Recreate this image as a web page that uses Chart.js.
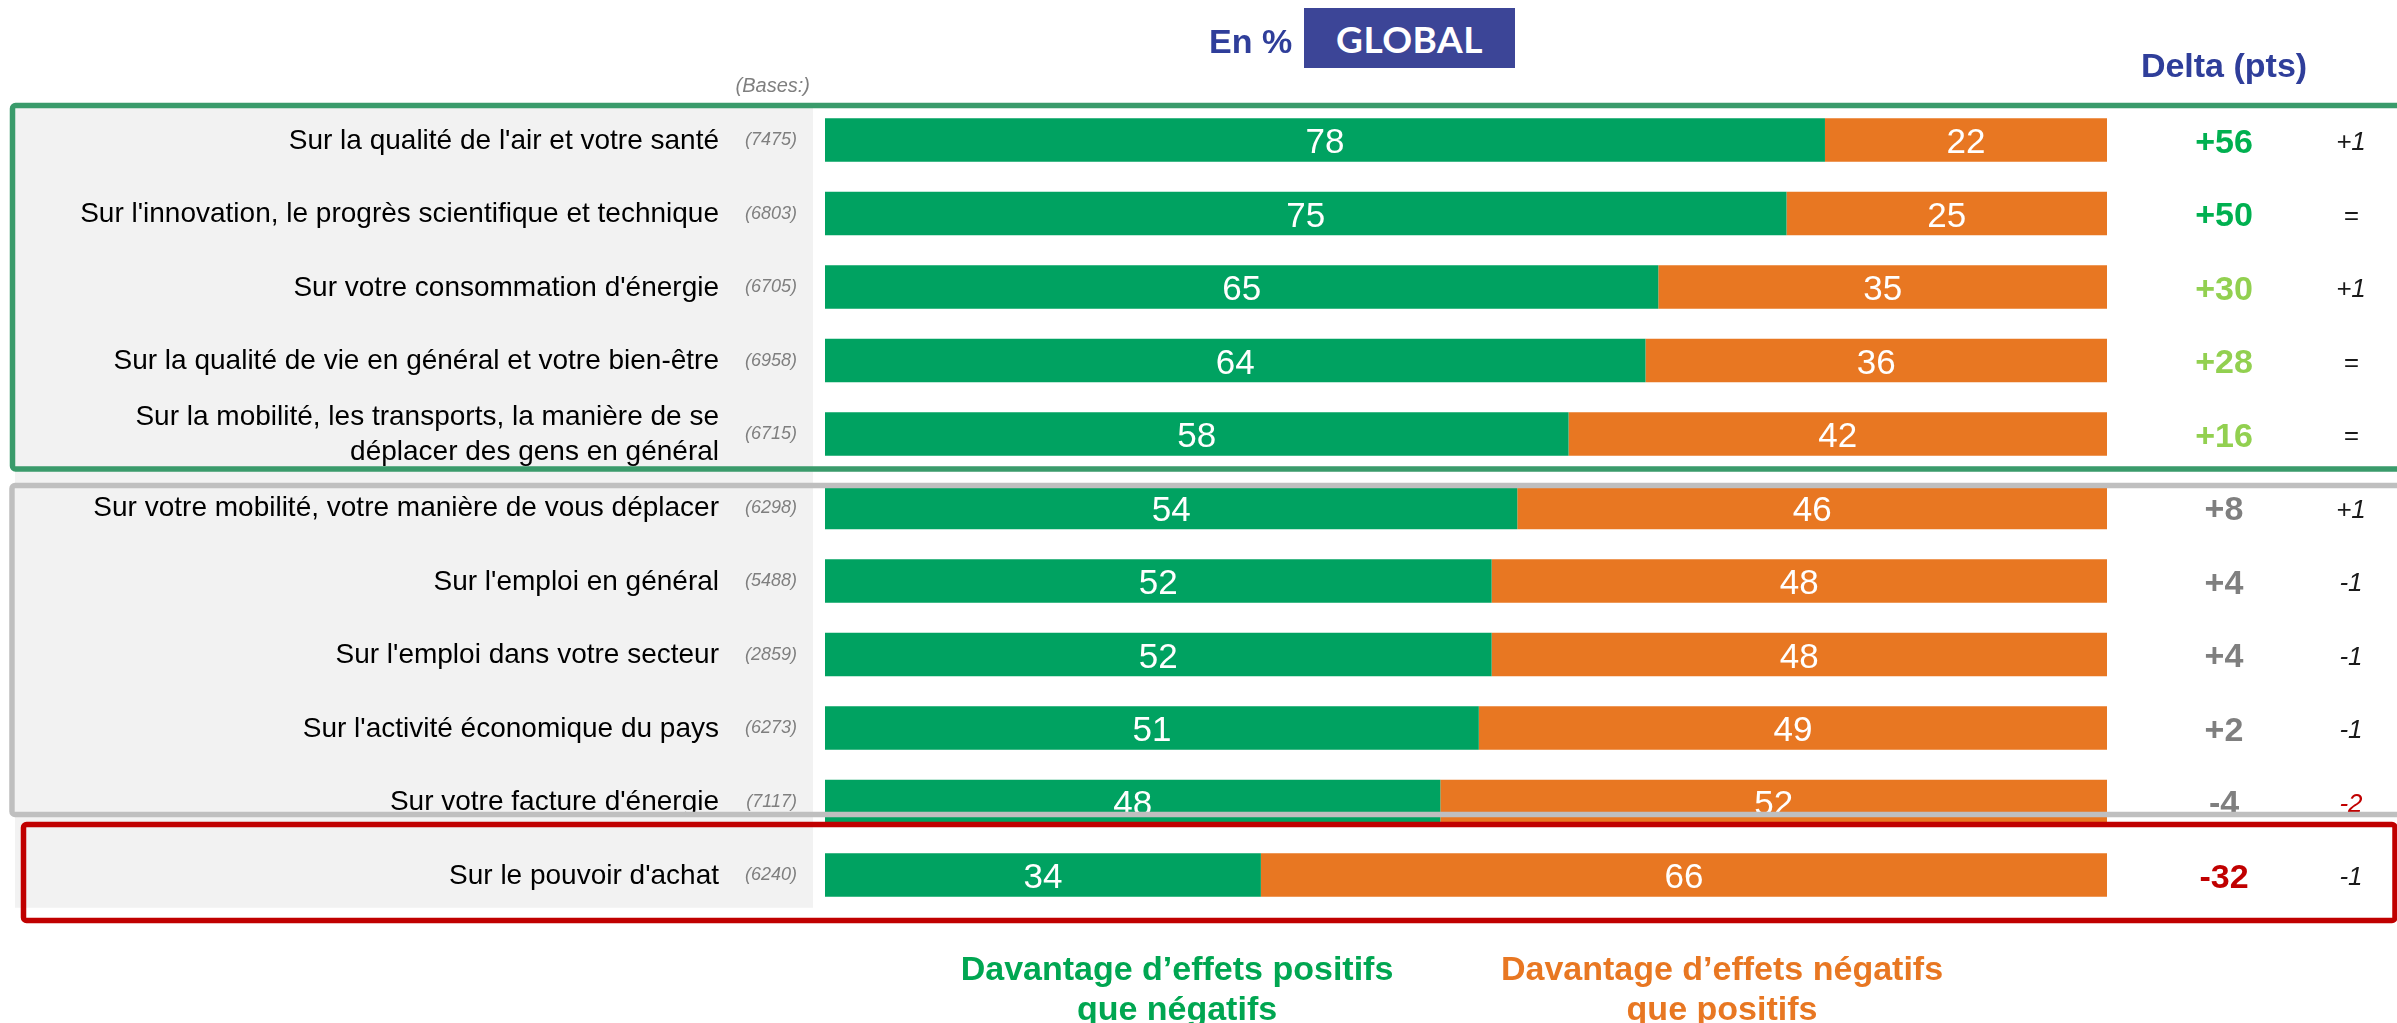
<!DOCTYPE html>
<html lang="fr">
<head>
<meta charset="utf-8">
<title>Effets perçus - GLOBAL</title>
<script src="https://cdn.jsdelivr.net/npm/chart.js@4.4.1/dist/chart.umd.min.js"></script>
<style>
    html, body { margin: 0; padding: 0; background: #fff; overflow: hidden; }
    #wrap { position: relative; width: 2397px; height: 1023px; font-family: "Liberation Sans", Arial, sans-serif; }
    #chart { position: absolute; left: 0; top: 0; }
    .txt { position: absolute; white-space: nowrap; line-height: 1; }
    .navy { color: #2F3E9A; font-weight: bold; font-size: 34px; }
    #global { position: absolute; left: 1304px; top: 8px; width: 211px; height: 60px; background: #3C4597;
              color: #fff; font-family: Lato, "Open Sans", sans-serif; font-weight: bold; font-size: 37px;
              display: flex; align-items: center; justify-content: center; letter-spacing: 0.5px; }
    .foot { position: absolute; width: 600px; text-align: center; font-weight: bold; font-size: 34px; line-height: 40px; }
</style>
</head>
<body>
<div id="wrap">
    <canvas id="chart" width="2397" height="1023"></canvas>
    <div class="txt navy" style="left:1209px; top:24px;">En %</div>
    <div id="global">GLOBAL</div>
    <div class="txt navy" style="left:2124px; top:48px; width:200px; text-align:center;">Delta (pts)</div>
    <div class="txt" style="right:1587px; top:75px; font-size:20px; font-style:italic; color:#7F7F7F;">(Bases:)</div>
    <div class="foot" style="left:877px; top:948px; color:#00A651;">Davantage d’effets positifs<br>que négatifs</div>
    <div class="foot" style="left:1422px; top:948px; color:#E87722;">Davantage d’effets négatifs<br>que positifs</div>
</div>
<script>
// Data
const categories = [
    "Sur la qualité de l'air et votre santé",
    "Sur l'innovation, le progrès scientifique et technique",
    "Sur votre consommation d'énergie",
    "Sur la qualité de vie en général et votre bien-être",
    ["Sur la mobilité, les transports, la manière de se", "déplacer des gens en général"],
    "Sur votre mobilité, votre manière de vous déplacer",
    "Sur l'emploi en général",
    "Sur l'emploi dans votre secteur",
    "Sur l'activité économique du pays",
    "Sur votre facture d'énergie",
    "Sur le pouvoir d'achat"
];
const bases = ['(7475)', '(6803)', '(6705)', '(6958)', '(6715)', '(6298)', '(5488)', '(2859)', '(6273)', '(7117)', '(6240)'];
const positive = [78, 75, 65, 64, 58, 54, 52, 52, 51, 48, 34];
const negative = [22, 25, 35, 36, 42, 46, 48, 48, 49, 52, 66];
const deltas = ['+56', '+50', '+30', '+28', '+16', '+8', '+4', '+4', '+2', '-4', '-32'];
const changes = ['+1', '=', '+1', '=', '=', '+1', '-1', '-1', '-1', '-2', '-1'];

const FONT = '"Liberation Sans", Arial, sans-serif';

function deltaColor(txt) {
    const v = parseInt(txt, 10);
    if (v >= 50) return '#00B050';
    if (v >= 10) return '#92D050';
    if (v > -10) return '#7F7F7F';
    return '#C00000';
}

function changeColor(txt) {
    const v = parseInt(txt, 10);
    return (!isNaN(v) && v <= -2) ? '#C00000' : '#1A1A1A';
}

// grey panel behind the row labels
const panelPlugin = {
    id: 'panel',
    beforeDatasetsDraw(chart) {
        const { ctx, chartArea } = chart;
        ctx.save();
        ctx.fillStyle = '#F2F2F2';
        ctx.fillRect(15, chartArea.top + 1, 798, chartArea.bottom - chartArea.top - 5);
        ctx.restore();
    }
};

// values inside bars, row labels, bases and deltas
const textPlugin = {
    id: 'texts',
    afterDatasetsDraw(chart) {
        const { ctx } = chart;
        const yScale = chart.scales.y;
        ctx.save();

        // values in the bars
        ctx.font = '35px ' + FONT;
        ctx.fillStyle = '#FFFFFF';
        ctx.textAlign = 'center';
        ctx.textBaseline = 'alphabetic';
        chart.data.datasets.forEach((ds, di) => {
            chart.getDatasetMeta(di).data.forEach((bar, i) => {
                const cx = (bar.x + bar.base) / 2;
                ctx.fillText(String(ds.data[i]), cx, bar.y + 13);
            });
        });

        categories.forEach((label, i) => {
            const y = yScale.getPixelForValue(i);

            // row label
            ctx.font = '28px ' + FONT;
            ctx.fillStyle = '#000000';
            ctx.textAlign = 'right';
            if (Array.isArray(label)) {
                ctx.fillText(label[0], 719, y - 9);
                ctx.fillText(label[1], 719, y + 26);
            } else {
                ctx.fillText(label, 719, y + 8.5);
            }

            // bases
            ctx.font = 'italic 18px ' + FONT;
            ctx.fillStyle = '#7F7F7F';
            ctx.fillText(bases[i], 797, y + 5);

            // delta
            ctx.textAlign = 'center';
            ctx.font = 'bold 34px ' + FONT;
            ctx.fillStyle = deltaColor(deltas[i]);
            ctx.fillText(deltas[i], 2224, y + 12.5);

            // evolution
            ctx.font = 'italic 26px ' + FONT;
            ctx.fillStyle = changeColor(changes[i]);
            ctx.fillText(changes[i], 2351, y + 10);
        });
        ctx.restore();
    }
};

// coloured frames around the groups of rows
const groups = [
    { from: 0, to: 4, color: '#3A9B6B', left: 12.5, right: 2405, top: -34.5, bottom: 35 },
    { from: 5, to: 9, color: '#BFBFBF', left: 12, right: 2405, top: -22, bottom: 13 },
    { from: 10, to: 10, color: '#C00000', left: 23.5, right: 2395, top: -50.5, bottom: 45.5 }
];

const framePlugin = {
    id: 'frames',
    afterDraw(chart) {
        const { ctx } = chart;
        const yScale = chart.scales.y;
        ctx.save();
        ctx.lineWidth = 5.5;
        groups.forEach(g => {
            const y0 = yScale.getPixelForValue(g.from) + g.top;
            const y1 = yScale.getPixelForValue(g.to) + g.bottom;
            ctx.strokeStyle = g.color;
            ctx.beginPath();
            ctx.roundRect(g.left, y0, g.right - g.left, y1 - y0, 3);
            ctx.stroke();
        });
        ctx.restore();
    }
};

const ctx = document.getElementById('chart').getContext('2d');
new Chart(ctx, {
    type: 'bar',
    data: {
        labels: categories,
        datasets: [
            {
                label: 'Davantage d’effets positifs que négatifs',
                data: positive,
                backgroundColor: '#00A261',
                barPercentage: 0.59,
                categoryPercentage: 1
            },
            {
                label: 'Davantage d’effets négatifs que positifs',
                data: negative,
                backgroundColor: '#E87722',
                barPercentage: 0.59,
                categoryPercentage: 1
            }
        ]
    },
    options: {
        indexAxis: 'y',
        responsive: false,
        animation: false,
        layout: {
            padding: { left: 825, right: 290, top: 103.25, bottom: 111.25 }
        },
        scales: {
            x: { stacked: true, min: 0, max: 100, display: false },
            y: { stacked: true, display: false }
        },
        plugins: {
            legend: { display: false },
            tooltip: { enabled: false }
        }
    },
    plugins: [panelPlugin, textPlugin, framePlugin]
});
</script>
</body>
</html>
